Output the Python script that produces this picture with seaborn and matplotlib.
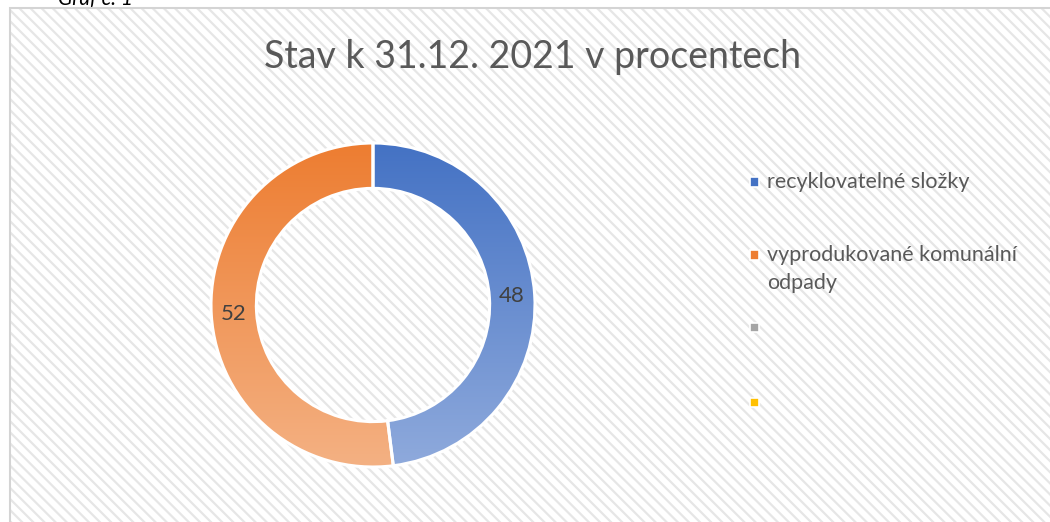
import numpy as np
import matplotlib
matplotlib.use("Agg")
import matplotlib.pyplot as plt
from matplotlib.colors import LinearSegmentedColormap
from matplotlib.patches import Rectangle
import seaborn as sns

# ---------------- DATA ----------------
title = "Stav k 31.12. 2021 v procentech"
caption = "Graf č. 1"
legend_labels = ["recyklovatelné složky", "vyprodukované komunální\nodpady", "", ""]
pie_values = [48, 52]

# ---------------- STYLE ----------------
top_colors = ["#4472C4", "#ED7D31", "#A5A5A5", "#FFC000"]
bottom_colors = ["#8FAADC", "#F4B183", "#C9C9C9", "#FFD966"]
legend_y_px = [182, 255, 327, 402]   # layout of the legend rows (px from top)
line_step_px = 28

sns.set_theme(style="white")
plt.rcParams['font.family'] = ['Lato', 'DejaVu Sans']
plt.rcParams['hatch.linewidth'] = 1.6

W, H = 1050, 522
fig = plt.figure(figsize=(W / 100, H / 100), dpi=100)
fig.patch.set_facecolor("white")

# hatched chart area + frame
bg = Rectangle((10 / W, -0.01), 1.0, 1 - 8 / H + 0.01, transform=fig.transFigure,
               facecolor="white", edgecolor="#E6E6E6", hatch="\\\\\\",
               linewidth=0, zorder=0)
fig.patches.append(bg)
frame = Rectangle((10 / W, -0.01), 1.0, 1 - 8 / H + 0.01, transform=fig.transFigure,
                  facecolor="none", edgecolor="#D4D4D4", linewidth=1.5, zorder=1)
fig.patches.append(frame)

fig.text(58 / W, 1 - 5 / H, caption, fontsize=15, style="italic", color="black",
         ha="left", va="baseline")

fig.text(533 / W, 1 - 57 / H, title, fontsize=27, color="#595959",
         ha="center", va="center", zorder=3)

# ---------------- DONUT ----------------
cx, cy, r = 373, 305, 162
lim = 1.05
ax = fig.add_axes([(cx - r * lim) / W, (H - cy - r * lim) / H, 2 * r * lim / W, 2 * r * lim / H])
ax.set_zorder(2)
ax.patch.set_alpha(0)

wedges, texts, autotexts = ax.pie(
    pie_values, startangle=90, counterclock=False, radius=1.0,
    colors=top_colors[:2],
    autopct=lambda p: f"{p:.0f}", pctdistance=0.86,
    wedgeprops=dict(width=0.28, edgecolor="white", linewidth=2.2),
    textprops=dict(fontsize=16, color="#404040"),
)
ax.set_aspect("equal")
ax.axis("off")

grad = np.linspace(0, 1, 256).reshape(-1, 1)
for i, w in enumerate(wedges):
    cmap = LinearSegmentedColormap.from_list(f"g{i}", [top_colors[i], bottom_colors[i]])
    im = ax.imshow(grad, cmap=cmap, extent=(-1, 1, -1, 1), origin="upper",
                   aspect="auto", zorder=1)
    im.set_clip_path(w)
    w.set_facecolor("none")
    w.set_zorder(2)
for t in autotexts:
    t.set_zorder(3)
ax.set_xlim(-lim, lim)
ax.set_ylim(-lim, lim)

# ---------------- LEGEND ----------------
for lab, col, ypx in zip(legend_labels, top_colors, legend_y_px):
    fig.patches.append(Rectangle(((754 - 4.5) / W, (H - ypx - 4.5) / H), 9 / W, 9 / H,
                                 transform=fig.transFigure, facecolor=col,
                                 edgecolor="white", linewidth=1.2, zorder=3))
    for k, line in enumerate(lab.split("\n")):
        if line:
            fig.text(767 / W, (H - ypx - k * line_step_px) / H, line, fontsize=15.5,
                     color="#595959", ha="left", va="center", zorder=3)

fig.savefig("out.png", dpi=100)
